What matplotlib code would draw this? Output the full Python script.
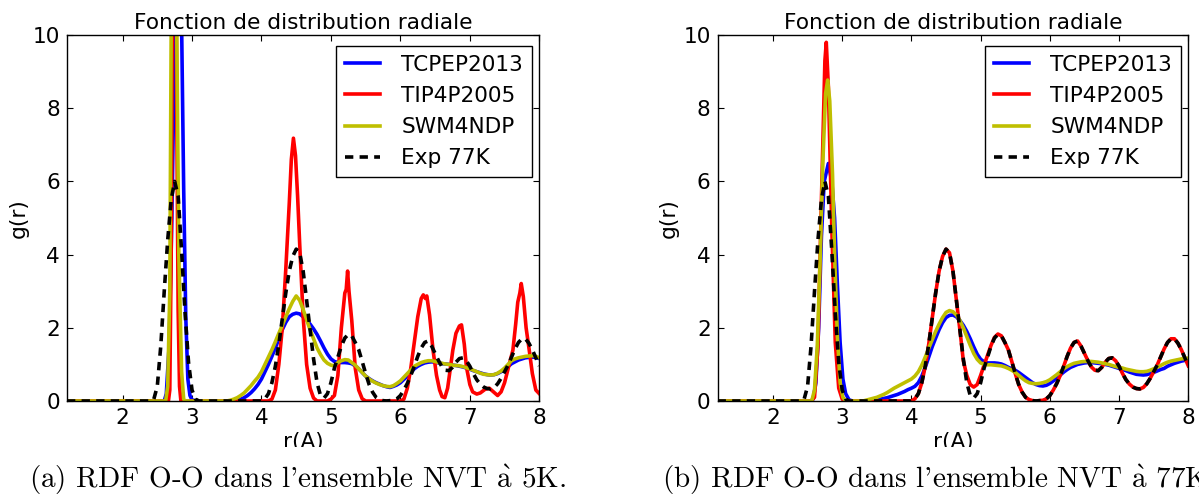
import matplotlib
matplotlib.use("Agg")
import matplotlib.pyplot as plt
from matplotlib.patches import Rectangle

# ---------------- data ----------------
# common grid for the outer shells (r in Angstrom)
r_shell = [3.50, 3.55, 3.60, 3.65, 3.70, 3.75, 3.80, 3.85, 3.90, 3.95,
           4.00, 4.05, 4.10, 4.15, 4.20, 4.25, 4.30, 4.35, 4.40, 4.45,
           4.50, 4.55, 4.60, 4.65, 4.70, 4.75, 4.80, 4.85, 4.90, 4.95,
           5.00, 5.05, 5.10, 5.15, 5.20, 5.25, 5.30, 5.35, 5.40, 5.45,
           5.50, 5.55, 5.60, 5.65, 5.70, 5.75, 5.80, 5.85, 5.90, 5.95,
           6.00, 6.05, 6.10, 6.15, 6.20, 6.25, 6.30, 6.35, 6.40, 6.45,
           6.50, 6.55, 6.60, 6.65, 6.70, 6.75, 6.80, 6.85, 6.90, 6.95,
           7.00, 7.05, 7.10, 7.15, 7.20, 7.25, 7.30, 7.35, 7.40, 7.45,
           7.50, 7.55, 7.60, 7.65, 7.70, 7.75, 7.80, 7.85, 7.90, 7.95,
           8.00]

# Experimental 77K (same in both panels)
r_exp_peak = [1.2, 2.40, 2.45, 2.50, 2.55, 2.60, 2.65, 2.70, 2.75, 2.80,
              2.85, 2.90, 2.95, 3.00, 3.05, 3.10]
g_exp_peak = [0, 0, 0.05, 0.4, 1.5, 3.0, 4.4, 5.5, 6.0, 5.6,
              4.1, 2.4, 1.05, 0.3, 0.05, 0]
g_exp_shell = [0, 0, 0, 0, 0, 0, 0, 0, 0, 0,
               0, 0.06, 0.2, 0.5, 0.95, 1.55, 2.25, 2.95, 3.55, 3.95,
               4.15, 4.05, 3.55, 2.75, 1.95, 1.15, 0.5, 0.15, 0.08, 0.2,
               0.5, 0.9, 1.2, 1.5, 1.72, 1.82, 1.78, 1.6, 1.4, 1.08,
               0.75, 0.45, 0.24, 0.1, 0.04, 0.01, 0, 0.01, 0.02, 0.06,
               0.15, 0.3, 0.48, 0.7, 0.95, 1.22, 1.45, 1.6, 1.64, 1.5,
               1.3, 1.1, 0.93, 0.84, 0.83, 0.92, 1.06, 1.16, 1.18, 1.1,
               0.95, 0.75, 0.58, 0.46, 0.38, 0.34, 0.33, 0.37, 0.47, 0.62,
               0.8, 0.98, 1.2, 1.42, 1.6, 1.7, 1.7, 1.58, 1.4, 1.18,
               0.96]

# ---- panel (a) : 5K ----
r_tcp5_peak = [1.2, 2.60, 2.63, 2.67, 2.71, 2.75, 2.79, 2.82, 2.85, 2.88,
               2.91, 2.94, 2.97, 3.00, 3.05]
g_tcp5_peak = [0, 0, 0.2, 1.5, 5, 10, 13, 12, 10.3, 5.8,
               2.3, 0.6, 0.15, 0.03, 0]
g_tcp5_shell = [0, 0, 0.01, 0.02, 0.05, 0.09, 0.15, 0.23, 0.33, 0.45,
                0.6, 0.8, 1.0, 1.22, 1.45, 1.7, 1.95, 2.15, 2.3, 2.37,
                2.4, 2.38, 2.3, 2.22, 2.1, 1.97, 1.82, 1.64, 1.45, 1.28,
                1.15, 1.08, 1.05, 1.05, 1.05, 1.04, 1.02, 0.96, 0.88, 0.78,
                0.68, 0.61, 0.55, 0.5, 0.46, 0.42, 0.39, 0.37, 0.4, 0.44,
                0.5, 0.59, 0.68, 0.78, 0.88, 0.95, 1.0, 1.04, 1.06, 1.07,
                1.06, 1.04, 1.02, 1.01, 1.0, 0.98, 0.97, 0.95, 0.93, 0.9,
                0.87, 0.83, 0.8, 0.77, 0.74, 0.72, 0.71, 0.72, 0.75, 0.8,
                0.86, 0.94, 1.02, 1.07, 1.12, 1.15, 1.18, 1.19, 1.2, 1.19,
                1.16]

r_tip5_peak = [1.2, 2.66, 2.68, 2.70, 2.72, 2.74, 2.76, 2.78, 2.80, 2.82, 2.84]
g_tip5_peak = [0, 0, 0.3, 4, 12, 18, 16, 8, 2.5, 0.4, 0]
r_tip5_shell = [3.50, 4.10, 4.15, 4.20, 4.25, 4.30, 4.35, 4.40, 4.43, 4.46,
                4.49, 4.52, 4.55, 4.60, 4.65, 4.70, 4.75, 4.80, 4.95, 5.00,
                5.05, 5.10, 5.15, 5.20, 5.22, 5.24, 5.26, 5.30, 5.35, 5.40,
                5.45, 5.50, 6.00, 6.05, 6.10, 6.15, 6.20, 6.25, 6.30, 6.33,
                6.36, 6.38, 6.42, 6.47, 6.52, 6.565, 6.60, 6.64, 6.68, 6.72,
                6.755, 6.80, 6.85, 6.88, 6.92, 6.95, 7.00, 7.04, 7.10, 7.15,
                7.22, 7.28, 7.34, 7.40, 7.45, 7.50, 7.56, 7.62, 7.66, 7.69,
                7.72, 7.74, 7.77, 7.81, 7.855, 7.90, 7.95, 8.00]
g_tip5_shell = [0, 0, 0.05, 0.3, 1.0, 2.0, 3.6, 5.4, 6.6, 7.18,
                6.7, 5.6, 4.3, 2.3, 1.0, 0.35, 0.08, 0, 0, 0.05,
                0.15, 0.7, 2.0, 2.95, 3.05, 3.55, 3.0, 2.2, 0.9, 0.3,
                0.06, 0, 0, 0.05, 0.35, 0.9, 1.6, 2.3, 2.8, 2.9,
                2.8, 2.87, 2.35, 1.39, 0.7, 0.3, 0.12, 0.09, 0.35, 0.9,
                1.39, 1.85, 2.05, 2.08, 1.55, 0.94, 0.45, 0.25, 0.19, 0.22,
                0.32, 0.35, 0.25, 0.15, 0.25, 0.5, 0.95, 1.39, 2.1, 2.7,
                2.95, 3.21, 2.85, 2.0, 1.39, 0.75, 0.3, 0.2]

r_swm5_peak = [1.2, 2.62, 2.65, 2.68, 2.70, 2.74, 2.78, 2.81, 2.85, 2.88, 2.90]
g_swm5_peak = [0, 0, 0.4, 3, 10.2, 15, 10.2, 4, 0.8, 0.05, 0]
g_swm5_shell = [0, 0.02, 0.05, 0.09, 0.15, 0.22, 0.32, 0.42, 0.54, 0.65,
                0.8, 1.0, 1.2, 1.4, 1.62, 1.85, 2.07, 2.3, 2.52, 2.72,
                2.87, 2.75, 2.5, 2.22, 1.95, 1.7, 1.45, 1.27, 1.12, 1.03,
                0.98, 0.96, 1.05, 1.1, 1.13, 1.12, 1.05, 0.98, 0.88, 0.78,
                0.68, 0.6, 0.54, 0.49, 0.45, 0.42, 0.4, 0.39, 0.42, 0.48,
                0.55, 0.65, 0.75, 0.85, 0.95, 1.0, 1.05, 1.08, 1.1, 1.1,
                1.08, 1.05, 1.03, 1.01, 1.0, 0.98, 0.97, 0.96, 0.94, 0.91,
                0.88, 0.84, 0.8, 0.76, 0.73, 0.72, 0.71, 0.72, 0.76, 0.82,
                0.9, 1.0, 1.1, 1.15, 1.18, 1.2, 1.22, 1.23, 1.24, 1.22,
                1.18]

# ---- panel (b) : 77K ----
r_tcp77_peak = [1.2, 2.55, 2.58, 2.62, 2.66, 2.70, 2.74, 2.80, 2.85, 2.89,
                2.93, 2.97, 3.01, 3.05, 3.10, 3.15, 3.35]
g_tcp77_peak = [0, 0, 0.05, 0.5, 2.0, 4.5, 6.0, 6.49, 6.0, 5.0,
                3.2, 1.6, 0.6, 0.2, 0.03, 0, 0]
g_tcp77_shell = [0.03, 0.05, 0.07, 0.09, 0.12, 0.15, 0.18, 0.22, 0.26, 0.31,
                 0.35, 0.4, 0.5, 0.68, 0.92, 1.2, 1.48, 1.72, 1.95, 2.14,
                 2.28, 2.34, 2.35, 2.3, 2.2, 2.07, 1.9, 1.7, 1.48, 1.28,
                 1.14, 1.07, 1.04, 1.04, 1.04, 1.03, 1.01, 0.97, 0.92, 0.88,
                 0.84, 0.78, 0.71, 0.64, 0.57, 0.5, 0.45, 0.42, 0.41, 0.43,
                 0.48, 0.55, 0.62, 0.71, 0.79, 0.86, 0.92, 0.96, 1.0, 1.02,
                 1.04, 1.05, 1.05, 1.04, 1.03, 1.02, 1.0, 0.98, 0.95, 0.92,
                 0.89, 0.86, 0.83, 0.79, 0.76, 0.73, 0.72, 0.71, 0.72, 0.75,
                 0.78, 0.82, 0.86, 0.89, 0.95, 0.99, 1.03, 1.06, 1.09, 1.11,
                 1.12]

r_tip77_peak = [1.2, 2.55, 2.60, 2.65, 2.70, 2.75, 2.77, 2.80, 2.85, 2.90,
                2.95, 3.00, 3.05]
g_tip77_peak = [0, 0, 0.1, 1.5, 5.5, 9.3, 9.8, 8.6, 4.7, 1.6,
                0.35, 0.05, 0]
g_tip77_shell = [0, 0, 0, 0, 0, 0, 0, 0, 0, 0,
                 0, 0.06, 0.2, 0.5, 0.95, 1.55, 2.25, 2.95, 3.55, 3.95,
                 4.15, 4.05, 3.55, 2.75, 1.95, 1.1, 0.7, 0.45, 0.38, 0.45,
                 0.7, 0.98, 1.25, 1.52, 1.74, 1.83, 1.78, 1.6, 1.4, 1.08,
                 0.75, 0.45, 0.24, 0.1, 0.04, 0.01, 0, 0.01, 0.02, 0.06,
                 0.15, 0.3, 0.48, 0.7, 0.95, 1.22, 1.45, 1.6, 1.64, 1.5,
                 1.3, 1.1, 0.93, 0.84, 0.83, 0.92, 1.06, 1.16, 1.18, 1.1,
                 0.95, 0.75, 0.58, 0.46, 0.38, 0.34, 0.33, 0.37, 0.47, 0.62,
                 0.8, 0.98, 1.2, 1.42, 1.6, 1.7, 1.7, 1.58, 1.4, 1.18,
                 0.96]

r_swm77_peak = [1.2, 2.56, 2.60, 2.64, 2.68, 2.72, 2.76, 2.79, 2.82, 2.86,
                2.89, 2.93, 2.97, 3.01, 3.05, 3.30]
g_swm77_peak = [0, 0, 0.3, 1.5, 3.8, 6.5, 8.4, 8.77, 8.2, 6.2,
                4.0, 1.8, 0.5, 0.1, 0, 0]
g_swm77_shell = [0.1, 0.14, 0.18, 0.23, 0.29, 0.35, 0.4, 0.45, 0.5, 0.55,
                 0.6, 0.68, 0.8, 0.98, 1.2, 1.44, 1.67, 1.9, 2.1, 2.28,
                 2.42, 2.47, 2.44, 2.35, 2.2, 2.0, 1.76, 1.52, 1.3, 1.14,
                 1.04, 1.0, 0.99, 0.99, 0.98, 0.97, 0.96, 0.93, 0.89, 0.84,
                 0.78, 0.7, 0.62, 0.55, 0.5, 0.48, 0.47, 0.48, 0.5, 0.53,
                 0.58, 0.65, 0.72, 0.8, 0.88, 0.94, 0.99, 1.03, 1.05, 1.07,
                 1.08, 1.08, 1.08, 1.07, 1.06, 1.04, 1.02, 1.0, 0.97, 0.94,
                 0.92, 0.9, 0.87, 0.85, 0.83, 0.81, 0.8, 0.8, 0.81, 0.84,
                 0.88, 0.92, 0.97, 1.02, 1.06, 1.09, 1.11, 1.13, 1.15, 1.16,
                 1.17]

labels = ["TCPEP2013", "TIP4P2005", "SWM4NDP", "Exp 77K"]
x_ticks = [2, 3, 4, 5, 6, 7, 8]
y_ticks = [0, 2, 4, 6, 8, 10]
title = "Fonction de distribution radiale"
captions = ["(a) RDF O-O dans l'ensemble NVT $\\grave{\\mathrm{a}}$ 5K.",
            "(b) RDF O-O dans l'ensemble NVT $\\grave{\\mathrm{a}}$ 77K."]

# ---------------- figure ----------------
plt.rcParams["lines.scale_dashes"] = False
plt.rcParams["font.family"] = ["DejaVu Sans"]
plt.rcParams["mathtext.fontset"] = "cm"
FS = 15.6
LW = 2.6

W, H = 1199, 495
fig = plt.figure(figsize=(W / 100, H / 100), dpi=100)
ax1 = fig.add_axes([67 / W, 94 / H, 472.3 / W, 366 / H])
ax2 = fig.add_axes([717.6 / W, 94 / H, 470.7 / W, 366 / H])

panels = [
    (ax1, (r_tcp5_peak + r_shell, g_tcp5_peak + g_tcp5_shell),
          (r_tip5_peak + r_tip5_shell, g_tip5_peak + g_tip5_shell),
          (r_swm5_peak + r_shell, g_swm5_peak + g_swm5_shell)),
    (ax2, (r_tcp77_peak + r_shell, g_tcp77_peak + g_tcp77_shell),
          (r_tip77_peak + r_shell, g_tip77_peak + g_tip77_shell),
          (r_swm77_peak + r_shell, g_swm77_peak + g_swm77_shell)),
]

r_exp = r_exp_peak + r_shell
g_exp = g_exp_peak + g_exp_shell

for ax, tcp, tip, swm in panels:
    for (rr, gg) in (tcp, tip, swm, (r_exp, g_exp)):
        assert len(rr) == len(gg), (len(rr), len(gg))
    ax.plot(tcp[0], tcp[1], color="#0000ff", lw=LW, label=labels[0])
    ax.plot(tip[0], tip[1], color="#ff0000", lw=LW, label=labels[1])
    ax.plot(swm[0], swm[1], color="#bfbf00", lw=LW, label=labels[2])
    ax.plot(r_exp, g_exp, color="black", lw=LW, ls=(0, (6, 4.5)),
            label=labels[3])
    ax.set_xlim(1.2, 8)
    ax.set_ylim(0, 10)
    ax.set_xticks(x_ticks)
    ax.set_yticks(y_ticks)
    ax.tick_params(direction="in", top=True, right=True, length=4,
                   width=0.8, labelsize=FS, pad=5)
    for s in ax.spines.values():
        s.set_linewidth(1.0)
    ax.set_title(title, fontsize=FS, pad=4)
    ax.set_xlabel("r(A)", fontsize=FS, labelpad=3)
    ax.set_ylabel("g(r)", fontsize=FS, labelpad=3)
    bb = ax.get_position()
    wpx, hpx = bb.width * W, bb.height * H
    leg = ax.legend(loc="upper right", fontsize=FS, fancybox=False,
                    framealpha=1, edgecolor="black", handlelength=1.6,
                    handletextpad=1.0, borderpad=0.4, labelspacing=0.52,
                    borderaxespad=0,
                    bbox_to_anchor=(1 - 7.5 / wpx, 1 - 11 / hpx))
    leg.get_frame().set_linewidth(1.0)

# white band cropping the bottom of the x-labels (as in the reference)
fig.patches.append(Rectangle((0, 0), 1, (H - 447) / H, transform=fig.transFigure,
                             facecolor="white", edgecolor="none", zorder=5))

cap_font = ["cmr10", "DejaVu Serif"]
fig.text(297.5 / W, (H - 488) / H, captions[0], ha="center", va="baseline",
         fontsize=21.0, family=cap_font, zorder=10)
fig.text(662 / W, (H - 488) / H, captions[1], ha="left", va="baseline",
         fontsize=21.0, family=cap_font, zorder=10)

fig.savefig("out.png", dpi=100)
